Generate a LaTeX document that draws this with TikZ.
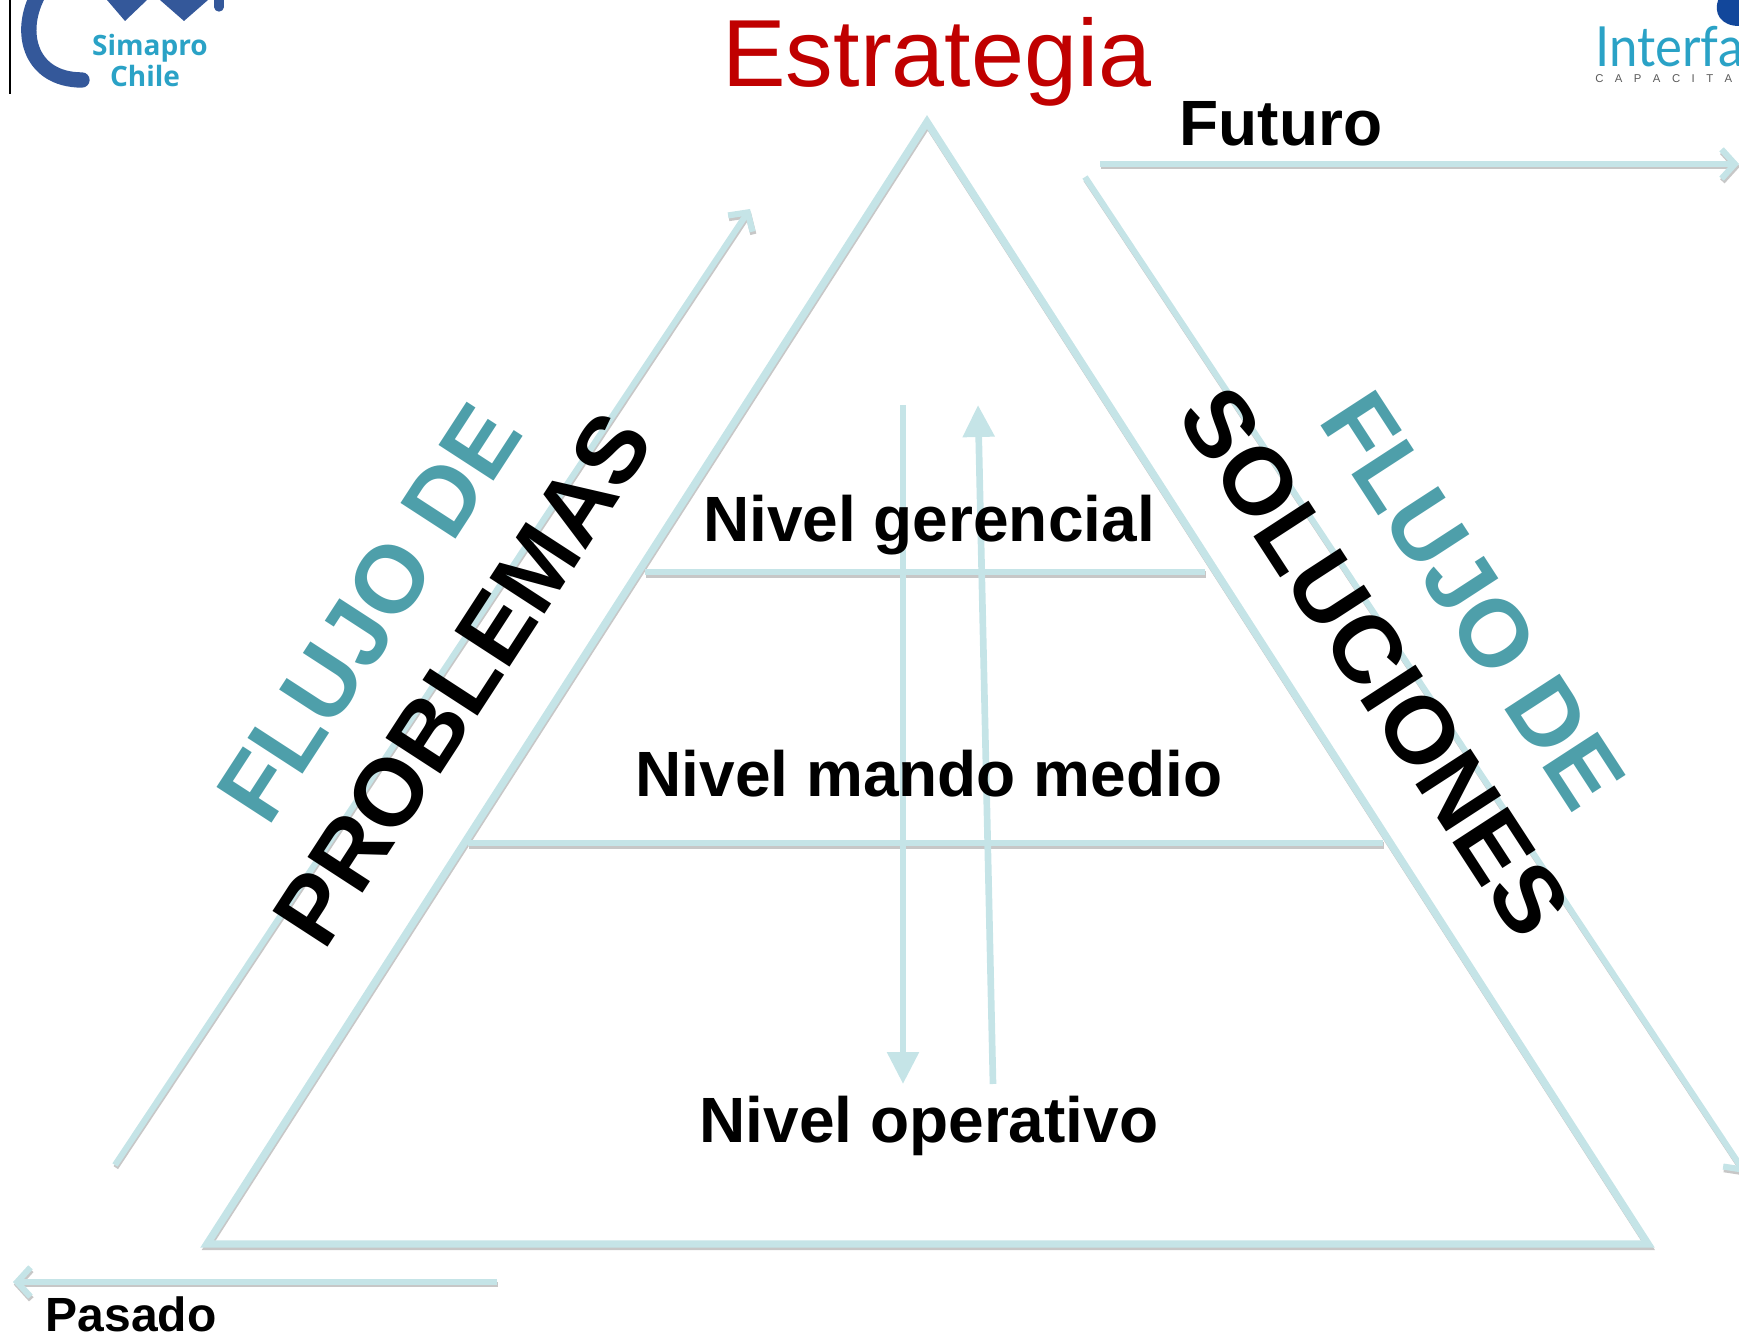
\documentclass[tikz,border=0pt]{standalone}
\usepackage{fontspec}
\usepackage{xcolor}
\setmainfont{Liberation Sans}
\newfontfamily\logofont{Open Sans}
\newfontfamily\interfont[FakeStretch=0.92]{Lato}
\usetikzlibrary{arrows.meta,shapes.geometric}
\definecolor{flowline}{HTML}{C5E4E7}
\definecolor{flowteal}{HTML}{4E9FAA}
\definecolor{titlered}{HTML}{C00000}
\definecolor{logoblue}{HTML}{34589A}
\definecolor{logocyan}{HTML}{2AA2C6}
\definecolor{logonavy}{HTML}{12479B}
\tikzset{
  shadowed/.style={preaction={draw=black!22,line width=#1,transform canvas={yshift=-2pt,xshift=0.6pt}}},
  pyramidline/.style={draw=flowline,line width=5.6pt,line join=miter,shadowed=5pt},
  flowarrow/.style={draw=flowline,line width=4.6pt,shadowed=4pt,-{Straight Barb[length=10pt,width=22pt,line width=4.6pt]}},
  flowplain/.style={draw=flowline,line width=5pt},
  leveltext/.style={anchor=base,inner sep=0.75pt,font=\fontsize{48}{58}\selectfont\bfseries},
  sidetext/.style={inner sep=0.75pt,font=\fontsize{71.5}{84}\selectfont\bfseries},
}
\begin{document}
\begin{tikzpicture}[x=0.75pt,y=0.75pt,yscale=-1,xscale=1]
\useasboundingbox (0,0) rectangle (1739,1333);
\clip (0,0) rectangle (1739,1333);
%Coordinates of the pyramid and flows
\coordinate (apex) at (927,122);
\coordinate (baseL) at (207,1244);
\coordinate (baseR) at (1648,1244);
\coordinate (gerL) at (645,572);
\coordinate (gerR) at (1205,572);
\coordinate (medL) at (468,843);
\coordinate (medR) at (1383,843);
\coordinate (probS) at (115,1165);
\coordinate (probE) at (750,209);
\coordinate (solS) at (1085,177);
\coordinate (solE) at (1745,1173);
\coordinate (futS) at (1100,164);
\coordinate (futE) at (1739,164);
\coordinate (pasS) at (497,1282);
\coordinate (pasE) at (13,1282);
\coordinate (downS) at (903,405);
\coordinate (downE) at (903,1084);
\coordinate (upS) at (993,1084);
\coordinate (upE) at (978,405);
%Shape: left logo
\draw [black,line width=0.9pt] (10,0) -- (10,94);
\draw [logoblue,line width=11.5pt,line cap=round] (42,-12) .. controls (16,28) and (28,80) .. (82,80);
\fill [logoblue] (107,0) -- (125,21) -- (147,0) -- cycle;
\fill [logoblue] (160,0) -- (184,21) -- (208,0) -- cycle;
\draw [logoblue,line width=7pt,line cap=round] (219,-5) -- (219,7);
\draw (150,48) node (simapro) [inner sep=0.75pt,text=logocyan,font=\logofont\fontsize{21}{24}\selectfont\bfseries] {Simapro};
\draw (145,76) node (chile) [inner sep=0.75pt,text=logocyan,font=\logofont\fontsize{21}{24}\selectfont\bfseries] {Chile};
%Shape: right logo
\fill [logonavy] (1739,26) .. controls (1722,26) and (1712,14) .. (1719,-2) -- (1739,-2) -- cycle;
\draw (1595,67) node (interfa) [anchor=base west,inner sep=0pt,text=logocyan,font=\interfont\fontsize{41.5}{50}\selectfont] {Interfa};
\draw (1595,83) node (capacita) [anchor=base west,inner sep=0pt,text=black!65,font=\fontsize{8.5}{10}\selectfont] {C\hspace{8.6pt}A\hspace{8.6pt}P\hspace{8.6pt}A\hspace{8.6pt}C\hspace{8.6pt}I\hspace{8.6pt}T\hspace{8.6pt}A};
%Shape: Triangle
\draw [pyramidline] (apex) -- (baseL) -- (baseR) -- cycle;
%Straight Lines
\draw [pyramidline,line width=4.8pt] (gerL) -- (gerR);
\draw [pyramidline,line width=4.8pt] (medL) -- (medR);
\draw [flowarrow] (probS) -- (probE);
\draw [flowarrow] (solS) -- (solE);
\draw [flowarrow] (futS) -- (futE);
\draw [flowarrow] (pasS) -- (pasE);
\draw [flowplain,-{Triangle[length=24pt,width=23pt]}] (downS) -- (downE);
\draw [flowplain,-{Triangle[length=24pt,width=23pt]}] (upS) -- (upE);
% Text Node
\draw (937,87) node (title) [anchor=base,inner sep=0.75pt,text=titlered,font=\fontsize{71.5}{84}\selectfont] {Estrategia};
% Text Node
\draw (1281,146) node (futuro) [anchor=base,inner sep=0.75pt,font=\fontsize{48}{58}\selectfont\bfseries] {Futuro};
% Text Node
\draw (131,1331) node (pasado) [anchor=base,inner sep=0.75pt,font=\fontsize{36}{42}\selectfont\bfseries] {Pasado};
% Text Node
\draw (929,542) node (gerencial) [leveltext] {Nivel gerencial};
% Text Node
\draw (929,796) node (mando) [leveltext] {Nivel mando medio};
% Text Node
\draw (929,1142) node (operativo) [leveltext] {Nivel operativo};
% Text Node
\draw (369,613) node (flujoL) [sidetext,text=flowteal,rotate=57] {FLUJO DE};
% Text Node
\draw (463,679) node (problemas) [sidetext,rotate=57] {PROBLEMAS};
% Text Node
\draw (1375,662) node (soluciones) [sidetext,rotate=-57] {SOLUCIONES};
% Text Node
\draw (1473,600) node (flujoR) [sidetext,text=flowteal,rotate=-57] {FLUJO DE};
\end{tikzpicture}
\end{document}
